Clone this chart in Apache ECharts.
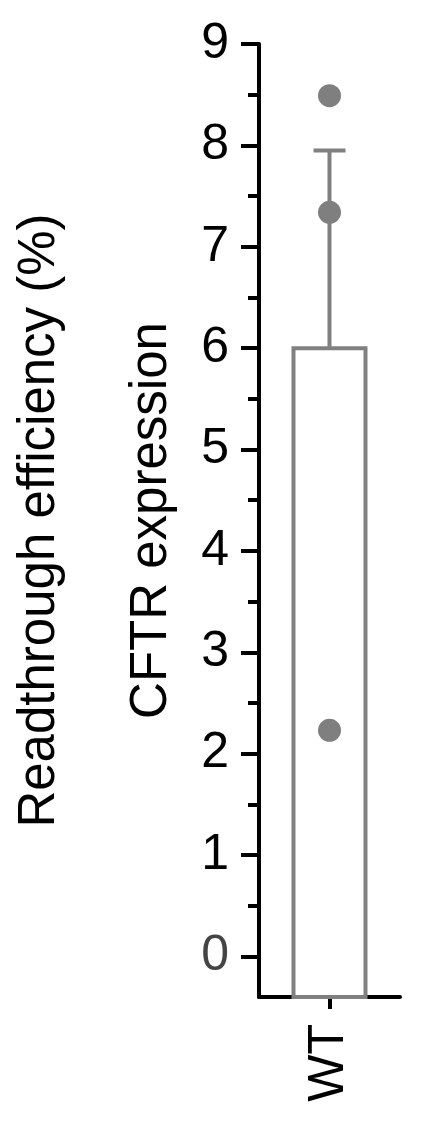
<!DOCTYPE html>
<html>
<head>
<meta charset="utf-8">
<script src="https://cdn.jsdelivr.net/npm/echarts@6/dist/echarts.min.js"></script>
<style>
html,body{margin:0;padding:0;background:#fff;}
#chart{width:436px;height:1136px;}
</style>
</head>
<body>
<div id="chart"></div>
<script>
// ---- data ----
const categories = ['WT'];
const barMeans = [6.0];
const errUpper = [7.95];
const points = [8.49, 7.34, 2.23];
const yMin = -0.4;
const yMax = 9;
const yTicks = [0, 1, 2, 3, 4, 5, 6, 7, 8, 9];
const yMinorTicks = [0.5, 1.5, 2.5, 3.5, 4.5, 5.5, 6.5, 7.5, 8.5];
const yTitle = 'Readthrough efficiency (%)\nCFTR expression';

const FONT = '"Liberation Sans", Arial, Helvetica, sans-serif';
const GRAY = '#808080';

const chart = echarts.init(document.getElementById('chart'), null, {renderer: 'canvas'});

const barData = categories.map((c, i) => [i, barMeans[i]]);
const errData = categories.map((c, i) => [i, barMeans[i], errUpper[i]]);
const pointData = points.map(v => [0, v]);

const option = {
  animation: false,
  backgroundColor: '#fff',
  grid: {left: 259, right: 36, top: 44, bottom: 139, containLabel: false, outerBoundsMode: 'none'},
  xAxis: {
    type: 'category',
    data: categories,
    boundaryGap: true,
    axisLine: {show: true, onZero: false, lineStyle: {color: '#000', width: 4}},
    axisTick: {show: true, alignWithLabel: true, length: 12, lineStyle: {color: '#000', width: 4}},
    axisLabel: {rotate: 90, fontSize: 50, margin: 27, color: '#000', fontFamily: FONT},
    splitLine: {show: false}
  },
  yAxis: [
    {
      type: 'value',
      min: yMin,
      max: yMax,
      name: yTitle,
      nameLocation: 'middle',
      nameRotate: 90,
      nameGap: 51,
      nameMoveOverlap: false,
      nameTextStyle: {fontSize: 51, lineHeight: 112, color: '#000', fontFamily: FONT},
      axisLine: {show: true, lineStyle: {color: '#000', width: 4}},
      axisTick: {show: true, customValues: yTicks, length: 18, lineStyle: {color: '#000', width: 4}},
      axisLabel: {
        customValues: yTicks,
        fontSize: 50,
        margin: 30,
        fontFamily: FONT,
        color: function (v) { return Number(v) === 0 ? '#444' : '#000'; }
      },
      splitLine: {show: false}
    },
    {
      type: 'value',
      min: yMin,
      max: yMax,
      position: 'left',
      axisLine: {show: false},
      axisTick: {show: true, customValues: yMinorTicks, length: 11, lineStyle: {color: '#000', width: 4}},
      axisLabel: {show: false},
      splitLine: {show: false}
    }
  ],
  series: [
    {
      type: 'custom',
      data: barData,
      z: 2,
      renderItem: function (params, api) {
        const top = api.coord([api.value(0), api.value(1)]);
        const base = api.coord([api.value(0), yMin]);
        const w = 72;
        return {
          type: 'rect',
          shape: {x: top[0] - w / 2, y: top[1], width: w, height: base[1] - top[1]},
          style: {fill: '#fff', stroke: GRAY, lineWidth: 4}
        };
      }
    },
    {
      type: 'custom',
      data: errData,
      z: 3,
      renderItem: function (params, api) {
        const p0 = api.coord([api.value(0), api.value(1)]);
        const p1 = api.coord([api.value(0), api.value(2)]);
        const cw = 32;
        return {
          type: 'group',
          children: [
            {type: 'line', shape: {x1: p0[0], y1: p0[1], x2: p1[0], y2: p1[1]}, style: {stroke: GRAY, lineWidth: 4}},
            {type: 'line', shape: {x1: p1[0] - cw / 2, y1: p1[1], x2: p1[0] + cw / 2, y2: p1[1]}, style: {stroke: GRAY, lineWidth: 4}}
          ]
        };
      }
    },
    {
      type: 'scatter',
      data: pointData,
      z: 4,
      symbol: 'circle',
      symbolSize: 23,
      itemStyle: {color: '#7f7f7f', opacity: 1}
    }
  ]
};
chart.setOption(option);
</script>
</body>
</html>
